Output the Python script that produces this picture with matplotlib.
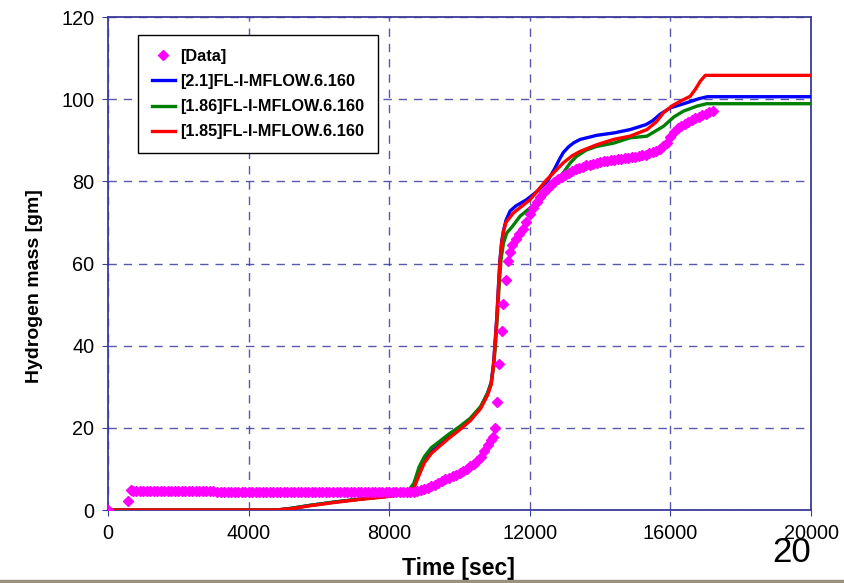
import matplotlib
matplotlib.use("Agg")
import matplotlib.pyplot as plt
from matplotlib.patches import Rectangle

plt.rcParams['font.family'] = ['Liberation Sans', 'DejaVu Sans']

# measured data (diamonds): start, flat band, rise, jump, upper part
t_data = ([0, 570, 650] + list(range(700, 8700, 100)) +
          list(range(8700, 11000, 100)) +
          [10960, 11010, 11060, 11130, 11200, 11250, 11310, 11370, 11440] +
          list(range(11500, 17300, 100)))
h_data = ([0, 2.3, 4.8] +
          [4.7] * 9 + [4.6] * 15 + [4.5] * 20 + [4.4] * 36 +
          [4.5, 4.6, 4.8, 5.1, 5.4, 5.8, 6.2, 6.6, 7.0, 7.5, 7.9, 8.3, 8.6,
           9.0, 9.5, 10.0, 10.6, 11.2, 12.0, 13.0, 14.3, 15.8, 17.0] +
          [17.8, 20.0, 26.4, 35.6, 43.6, 50.1, 55.9, 60.7, 62.9] +
          [64.5, 66.0, 67.2, 68.4, 70.0, 72.0, 73.5, 75.0, 76.2, 77.3, 78.2,
           79.0, 79.8, 80.5, 81.0, 81.5, 82.0, 82.5, 82.9, 83.3, 83.6, 83.9,
           84.1, 84.3, 84.5, 84.7, 84.85, 85.0, 85.15, 85.3, 85.4, 85.5, 85.6,
           85.7, 85.85, 86.0, 86.15, 86.3, 86.5, 86.8, 87.1, 87.4, 87.9, 88.5,
           89.4, 90.8, 92.0, 93.0, 93.5, 94.0, 94.5, 94.9, 95.3, 95.7, 96.1,
           96.5, 96.9, 97.2])

# [2.1]FL-I-MFLOW.6.160
t_21 = [0, 4800, 5200, 5800, 6500, 7200, 8000, 8500, 8700, 8850, 9000, 9200, 9400,
        9700, 10000, 10300, 10600, 10800, 10900, 10970, 11020, 11060, 11110, 11150,
        11200, 11250, 11320, 11440, 11600, 11900, 12200, 12500, 12700, 12850, 12950,
        13100, 13250, 13430, 13900, 14400, 14850, 15300, 15500, 15700, 16000, 16450,
        16800, 17050, 20000]
h_21 = [0, 0, 0.4, 1.2, 2.0, 2.7, 3.4, 4.2, 5.7, 9.0, 12.0, 14.2, 15.6,
        17.8, 19.8, 22.0, 25.0, 28.5, 31.0, 36.0, 42.0, 47.0, 55.0, 61.0,
        65.5, 68.0, 70.5, 72.8, 74.0, 75.5, 77.5, 80.0, 83.0, 85.5, 87.0,
        88.4, 89.4, 90.2, 91.2, 91.8, 92.6, 93.8, 94.8, 96.3, 97.9, 99.1,
        100.1, 100.6, 100.6]

# [1.86]FL-I-MFLOW.6.160
t_186 = [0, 4800, 5200, 5800, 6500, 7200, 8000, 8500, 8700, 8850, 9000, 9200, 9400,
         9700, 10000, 10300, 10600, 10800, 10900, 10970, 11030, 11080, 11130, 11180,
         11250, 11340, 11500, 11720, 12000, 12290, 12600, 12950, 13150, 13330, 13600,
         13900, 14380, 14850, 15330, 15800, 16100, 16370, 16750, 17030, 20000]
h_186 = [0, 0, 0.4, 1.2, 2.0, 2.7, 3.4, 4.2, 6.5, 10.5, 13.0, 15.2, 16.5,
         18.5, 20.3, 22.3, 25.2, 28.5, 31.0, 35.0, 41.0, 48.0, 55.0, 61.0,
         65.0, 67.4, 69.0, 71.5, 73.5, 75.5, 78.5, 82.1, 84.5, 86.1, 87.6,
         88.5, 89.3, 90.6, 91.0, 93.4, 95.7, 97.1, 98.3, 98.9, 98.9]

# [1.85]FL-I-MFLOW.6.160
t_185 = [0, 4800, 5200, 5800, 6500, 7200, 8000, 8500, 8700, 8850, 9000, 9200, 9400,
         9700, 10000, 10300, 10600, 10800, 10900, 10970, 11020, 11060, 11110, 11150,
         11200, 11250, 11320, 11530, 12000, 12480, 12950, 13200, 13430, 13900, 14380,
         14850, 15330, 15600, 15800, 16050, 16280, 16560, 16700, 16850, 16990, 20000]
h_185 = [0, 0, 0.3, 1.1, 1.9, 2.6, 3.3, 4.1, 5.3, 8.5, 11.5, 13.8, 15.3,
         17.5, 19.5, 21.7, 24.7, 28.0, 30.5, 35.5, 41.5, 46.5, 54.5, 60.5,
         65.0, 67.8, 70.0, 72.3, 75.5, 80.4, 84.5, 86.2, 87.3, 88.9, 90.2,
         91.0, 92.6, 94.5, 96.7, 98.4, 99.5, 100.7, 102.3, 104.4, 105.8, 105.8]

navy = '#3c3c9c'

fig = plt.figure(figsize=(8.44, 5.83), dpi=100)
ax = fig.add_axes([0.128, 0.1252, 0.833, 0.8456])

ax.plot(t_21, h_21, color='#0000ff', lw=2.4, label='[2.1]FL-I-MFLOW.6.160', zorder=3)
ax.plot(t_186, h_186, color='#008000', lw=2.4, label='[1.86]FL-I-MFLOW.6.160', zorder=3)
ax.plot(t_185, h_185, color='#ff0000', lw=2.4, label='[1.85]FL-I-MFLOW.6.160', zorder=4)
ax.plot(t_data, h_data, ls='none', marker='D', ms=4.6, color='#ff00ff', mec='#ff00ff',
        label='[Data]', zorder=5)

ax.set_xlim(0, 20000)
ax.set_ylim(0, 120)
ax.set_xticks(range(0, 20001, 4000))
ax.set_yticks(range(0, 121, 20))
ax.tick_params(labelsize=14.3, direction='out', length=4, color=navy, pad=6)
ax.grid(True, color=navy, ls=(0, (6, 5)), lw=1.0, alpha=0.85)
ax.set_axisbelow(True)
for s in ax.spines.values():
    s.set_color(navy)
    s.set_linewidth(1.3)

ax.set_xlabel('Time [sec]', fontsize=16.5, fontweight='bold')
ax.xaxis.set_label_coords(0.499, -0.095)
ax.set_ylabel('Hydrogen mass [gm]', fontsize=14, fontweight='bold')
ax.yaxis.set_label_coords(-0.092, 0.455)

h, l = ax.get_legend_handles_labels()
order = [3, 0, 1, 2]
leg = ax.legend([h[i] for i in order], [l[i] for i in order],
                loc='upper left', bbox_to_anchor=(0.043, 0.963), borderaxespad=0,
                fancybox=False, framealpha=1, edgecolor='black',
                prop={'weight': 'bold', 'size': 11.7}, handlelength=1.4,
                handletextpad=0.35, labelspacing=0.62, borderpad=0.85,
                markerscale=1.1)
leg.get_frame().set_linewidth(1.0)

# slide number and bottom rule
fig.text(792 / 844, 1 - 553 / 583, '20', fontsize=25, ha='center', va='center')
fig.patches.append(Rectangle((0, 0), 1, 3.5 / 583, transform=fig.transFigure,
                             color='#9c9080', zorder=0))

fig.savefig('out.png', dpi=100)
